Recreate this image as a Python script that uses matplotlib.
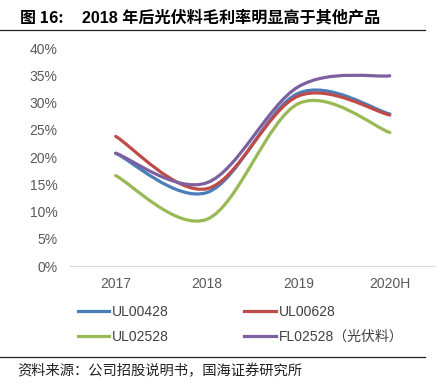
import matplotlib.pyplot as plt
from matplotlib.path import Path
from matplotlib.patches import PathPatch
from matplotlib.lines import Line2D

plt.rcParams['font.family'] = ['Liberation Sans', 'Noto Sans CJK SC', 'DejaVu Sans']

years = ["2017", "2018", "2019", "2020H"]
ul00428 = [20.7, 13.5, 31.7, 27.9]
ul00628 = [23.8, 14.2, 31.2, 27.7]
ul02528 = [16.6, 8.6, 29.8, 24.5]
fl02528 = [20.7, 15.3, 32.9, 34.9]

series = [
    ("UL00428", ul00428, "#4a7ebb"),
    ("UL00628", ul00628, "#be4b48"),
    ("UL02528", ul02528, "#98b954"),
    ("FL02528（光伏料）", fl02528, "#7d60a0"),
]


def smooth_path(ys):
    # Excel-style smoothed line: cubic Bezier segments (Catmull-Rom control points)
    xs = list(range(len(ys)))
    pts = list(zip(xs, ys))
    verts = [pts[0]]
    codes = [Path.MOVETO]
    for i in range(len(pts) - 1):
        p0 = pts[i - 1] if i > 0 else pts[i]
        p1 = pts[i]
        p2 = pts[i + 1]
        p3 = pts[i + 2] if i + 2 < len(pts) else pts[i + 1]
        c1 = (p1[0] + (p2[0] - p0[0]) / 6, p1[1] + (p2[1] - p0[1]) / 6)
        c2 = (p2[0] - (p3[0] - p1[0]) / 6, p2[1] - (p3[1] - p1[1]) / 6)
        verts += [c1, c2, p2]
        codes += [Path.CURVE4] * 3
    return Path(verts, codes)


fig = plt.figure(figsize=(4.43, 3.84), dpi=100)
ax = fig.add_axes([0.158, 0.307, 0.825, 0.568])

for name, vals, color in series:
    ax.add_patch(PathPatch(smooth_path(vals), facecolor="none", edgecolor=color,
                           lw=2.3, capstyle="round", joinstyle="round"))

ax.set_xlim(-0.5, len(years) - 0.5)
ax.set_ylim(0, 40)
ax.set_yticks(range(0, 41, 5))
ax.set_yticklabels([f"{v}%" for v in range(0, 41, 5)])
ax.set_xticks(range(len(years)))
ax.set_xticklabels(years)
ax.tick_params(length=0, labelsize=10, labelcolor="#595959")
ax.tick_params(axis="y", pad=9)
ax.tick_params(axis="x", pad=8)
for s in ["top", "right", "left"]:
    ax.spines[s].set_visible(False)
ax.spines["bottom"].set_color("#d9d9d9")
ax.spines["bottom"].set_linewidth(0.8)

# legend filled by column, so order as col1 = series 0, 2 and col2 = series 1, 3
order = [0, 2, 1, 3]
handles = [Line2D([], [], color=series[i][2], lw=2.3) for i in order]
labels = [series[i][0] for i in order]
fig.legend(handles, labels, ncol=2, loc="upper left", bbox_to_anchor=(0.175, 0.205),
           frameon=False, fontsize=10, handlelength=2.3, handletextpad=0.2,
           columnspacing=5.4, labelspacing=0.75, borderaxespad=0, borderpad=0,
           labelcolor="#404040")

fig.text(0.045, 0.953, "图 16:", fontsize=11.5, fontweight="bold", va="center",
         family=["Noto Sans CJK SC"])
fig.text(0.185, 0.953, "2018 年后光伏料毛利率明显高于其他产品", fontsize=11.6,
         fontweight="bold", va="center", family=["Liberation Sans", "Noto Sans CJK SC"])
fig.add_artist(Line2D([0.0, 0.96], [0.922, 0.922], color="#222222", lw=0.9))
fig.add_artist(Line2D([0.0, 0.96], [0.07, 0.07], color="#222222", lw=0.9))
fig.text(0.04, 0.035, "资料来源：公司招股说明书，国海证券研究所", fontsize=10.3, va="center",
         family=["Noto Sans CJK SC"], color="#222222")

fig.savefig("out.png", dpi=100)
